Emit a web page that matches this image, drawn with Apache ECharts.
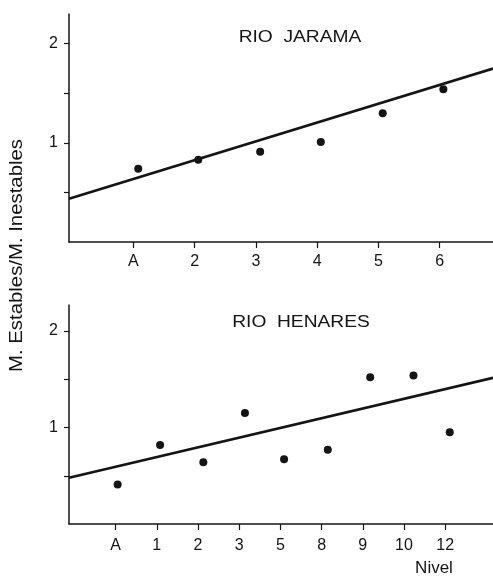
<!DOCTYPE html>
<html>
<head>
<meta charset="utf-8">
<script src="https://cdn.jsdelivr.net/npm/echarts@6/dist/echarts.min.js"></script>
<style>
html,body{margin:0;padding:0;background:#fff;}
#chart{width:493px;height:577px;}
</style>
</head>
<body>
<div id="chart"></div>
<script>
// ---- data ----
const topTitle = 'RIO  JARAMA';
const botTitle = 'RIO  HENARES';
const yTitle = 'M. Estables/M. Inestables';
const xTitle = 'Nivel';

const topCats = ['A', '2', '3', '4', '5', '6'];
const topTickPos = [1, 2, 3, 4, 5, 6];
const topPointX = [1.08, 2.06, 3.07, 4.06, 5.07, 6.06];
const topPointY = [0.74, 0.83, 0.91, 1.01, 1.30, 1.54];
const topLineX = [-0.05, 6.87];
const topLineY = [0.436, 1.75];

const botCats = ['A', '1', '2', '3', '5', '8', '9', '10', '12'];
const botTickPos = [1, 2, 3, 4, 5, 6, 7, 8, 9];
const botPointX = [1.05, 2.08, 3.13, 4.14, 5.09, 6.15, 7.18, 8.23, 9.11];
const botPointY = [0.41, 0.82, 0.64, 1.15, 0.67, 0.77, 1.52, 1.54, 0.95];
const botLineX = [-0.13, 10.16];
const botLineY = [0.48, 1.515];

const yTicks = [0.5, 1, 1.5, 2];
const yLabelVals = [1, 2];

// ---- chart ----
const ink = '#141414';
const font = '"Liberation Sans", Arial, Helvetica, sans-serif';
const chart = echarts.init(document.getElementById('chart'), null, {renderer: 'canvas'});

function xAxisDef(gi, min, max, ticks, cats, margin) {
  return {
    type: 'value', gridIndex: gi, min: min, max: max,
    axisLine: {show: true, onZero: false, lineStyle: {color: ink, width: 1.5}},
    axisTick: {show: true, length: 6, customValues: ticks, lineStyle: {color: ink, width: 1.2}},
    axisLabel: {show: true, customValues: ticks, margin: margin, color: ink, fontSize: 16, fontFamily: font,
      formatter: function (v) { const i = ticks.indexOf(v); return i >= 0 ? cats[i] : ''; }},
    splitLine: {show: false}
  };
}
function yAxisDef(gi, max) {
  return {
    type: 'value', gridIndex: gi, min: 0, max: max,
    axisLine: {show: true, onZero: false, lineStyle: {color: ink, width: 1.5}},
    axisTick: {show: true, length: 5, customValues: yTicks, lineStyle: {color: ink, width: 1.2}},
    axisLabel: {show: true, customValues: yLabelVals, margin: 11, color: ink, fontSize: 16, fontFamily: font,
      formatter: function (v) { return String(v); }},
    splitLine: {show: false}
  };
}
function pairs(xs, ys) { return xs.map(function (x, i) { return [x, ys[i]]; }); }

const option = {
  backgroundColor: '#fff',
  animation: false,
  grid: [
    {left: 69, right: 0, top: 14, height: 228},
    {left: 69, right: 0, top: 305, height: 219}
  ],
  xAxis: [
    xAxisDef(0, -0.05, 6.87, topTickPos, topCats, 12),
    xAxisDef(1, -0.13, 10.16, botTickPos, botCats, 14)
  ],
  yAxis: [
    yAxisDef(0, 2.3),
    yAxisDef(1, 2.27)
  ],
  series: [
    {type: 'scatter', xAxisIndex: 0, yAxisIndex: 0, data: pairs(topPointX, topPointY),
      symbol: 'circle', symbolSize: 8, itemStyle: {color: ink, opacity: 1}},
    {type: 'line', xAxisIndex: 0, yAxisIndex: 0, data: pairs(topLineX, topLineY),
      symbol: 'none', lineStyle: {color: ink, width: 2.6}},
    {type: 'scatter', xAxisIndex: 1, yAxisIndex: 1, data: pairs(botPointX, botPointY),
      symbol: 'circle', symbolSize: 8, itemStyle: {color: ink, opacity: 1}},
    {type: 'line', xAxisIndex: 1, yAxisIndex: 1, data: pairs(botLineX, botLineY),
      symbol: 'none', lineStyle: {color: ink, width: 2.6}}
  ],
  graphic: [
    {type: 'text', x: 300, y: 37.5, scaleX: 1.2,
      style: {text: topTitle, font: '16px ' + font, fill: ink, align: 'center', verticalAlign: 'middle'}},
    {type: 'text', x: 301, y: 323, scaleX: 1.2,
      style: {text: botTitle, font: '16px ' + font, fill: ink, align: 'center', verticalAlign: 'middle'}},
    {type: 'text', x: 17, y: 255.5, rotation: Math.PI / 2, scaleX: 1.13,
      style: {text: yTitle, font: '18px ' + font, fill: ink, align: 'center', verticalAlign: 'middle'}},
    {type: 'text', x: 434, y: 568.5,
      style: {text: xTitle, font: '17px ' + font, fill: ink, align: 'center', verticalAlign: 'middle'}}
  ]
};
chart.setOption(option);
</script>
</body>
</html>
